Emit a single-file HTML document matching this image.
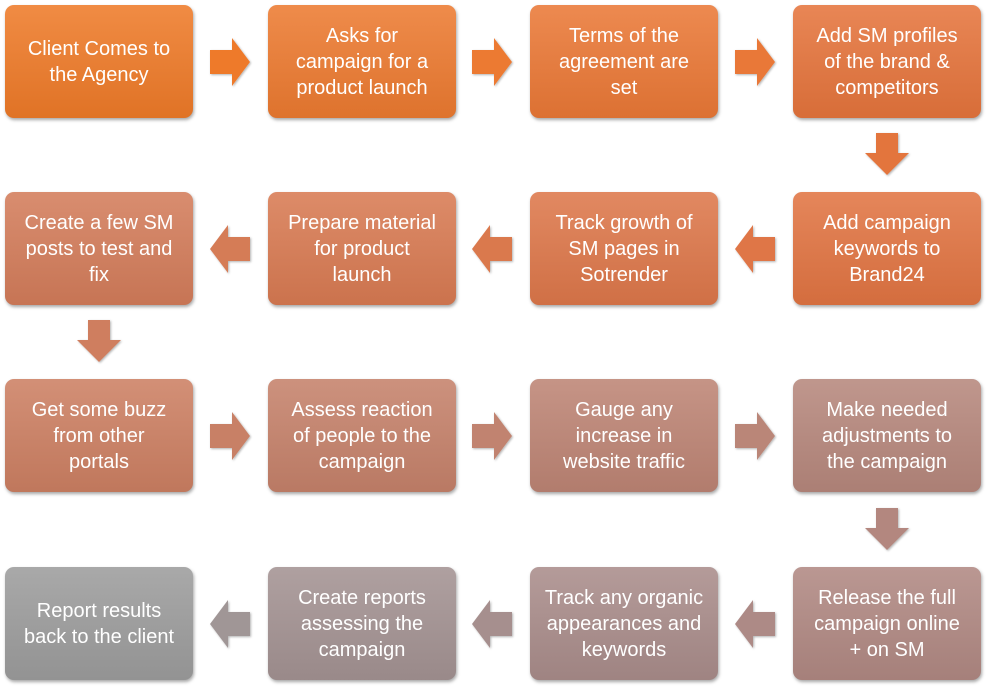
<!DOCTYPE html>
<html><head><meta charset="utf-8"><style>
body{margin:0;width:988px;height:687px;background:#fff;position:relative;overflow:hidden;font-family:"Liberation Sans",sans-serif}
.b{position:absolute;width:188px;height:113px;border-radius:9px;color:#fff;font-size:20px;line-height:26px;display:flex;align-items:center;justify-content:center;text-align:center;box-shadow:1px 2px 3px rgba(0,0,0,.35);background-image:linear-gradient(rgba(255,255,255,.13),rgba(0,0,0,.06));white-space:nowrap}
svg{position:absolute}
</style></head><body>
<div class="b" style="left:5px;top:5px;background-color:#EE7A28"><span>Client Comes to<br>the Agency</span></div>
<div class="b" style="left:268px;top:5px;background-color:#EC7A30"><span>Asks for<br>campaign for a<br>product launch</span></div>
<div class="b" style="left:530px;top:5px;background-color:#EA7836"><span>Terms of the<br>agreement are<br>set</span></div>
<div class="b" style="left:793px;top:5px;background-color:#E5743C"><span>Add SM profiles<br>of the brand &amp;<br>competitors</span></div>

<div class="b" style="left:793px;top:192px;background-color:#E17442"><span>Add campaign<br>keywords to<br>Brand24</span></div>
<div class="b" style="left:530px;top:192px;background-color:#DD774A"><span>Track growth of<br>SM pages in<br>Sotrender</span></div>
<div class="b" style="left:268px;top:192px;background-color:#D87A52"><span>Prepare material<br>for product<br>launch</span></div>
<div class="b" style="left:5px;top:192px;background-color:#D37C5A"><span>Create a few SM<br>posts to test and<br>fix</span></div>

<div class="b" style="left:5px;top:379px;background-color:#CC7F62"><span>Get some buzz<br>from other<br>portals</span></div>
<div class="b" style="left:268px;top:379px;background-color:#C5816A"><span>Assess reaction<br>of people to the<br>campaign</span></div>
<div class="b" style="left:530px;top:379px;background-color:#BD8474"><span>Gauge any<br>increase in<br>website traffic</span></div>
<div class="b" style="left:793px;top:379px;background-color:#B6877C"><span>Make needed<br>adjustments to<br>the campaign</span></div>

<div class="b" style="left:793px;top:567px;background-color:#B08882"><span>Release the full<br>campaign online<br>+ on SM</span></div>
<div class="b" style="left:530px;top:567px;background-color:#A98C8A"><span>Track any organic<br>appearances and<br>keywords</span></div>
<div class="b" style="left:268px;top:567px;background-color:#A39292"><span>Create reports<br>assessing the<br>campaign</span></div>
<div class="b" style="left:5px;top:567px;background-color:#9C9C9C"><span>Report results<br>back to the client</span></div>

<svg width="988" height="687" style="left:0;top:0">
<defs><filter id="s"><feDropShadow dx="1" dy="1" stdDeviation="1" flood-opacity=".3"/></filter></defs>
<g filter="url(#s)">
<path d="M210,50h22v-12l18,24l-18,24v-12h-22z" fill="#EE7A2A"/>
<path d="M472,50h22v-12l18,24l-18,24v-12h-22z" fill="#EC7A32"/>
<path d="M735,50h22v-12l18,24l-18,24v-12h-22z" fill="#E97838"/>
<path d="M876,133h22v20h11l-22,22l-22,-22h11z" fill="#E3743E"/>
<path d="M775,237h-22v-12l-18,24l18,24v-12h22z" fill="#DF7646"/>
<path d="M512,237h-22v-12l-18,24l18,24v-12h22z" fill="#DA794E"/>
<path d="M250,237h-22v-12l-18,24l18,24v-12h22z" fill="#D57B56"/>
<path d="M88,320h22v20h11l-22,22l-22,-22h11z" fill="#CF7E5E"/>
<path d="M210,424h22v-12l18,24l-18,24v-12h-22z" fill="#C88066"/>
<path d="M472,424h22v-12l18,24l-18,24v-12h-22z" fill="#C1836F"/>
<path d="M735,424h22v-12l18,24l-18,24v-12h-22z" fill="#BA8678"/>
<path d="M876,508h22v20h11l-22,22l-22,-22h11z" fill="#B3877F"/>
<path d="M775,612h-22v-12l-18,24l18,24v-12h22z" fill="#AD8A86"/>
<path d="M512,612h-22v-12l-18,24l18,24v-12h22z" fill="#A68F8E"/>
<path d="M250,612h-22v-12l-18,24l18,24v-12h22z" fill="#A09696"/>
</g>
</svg>
</body></html>
